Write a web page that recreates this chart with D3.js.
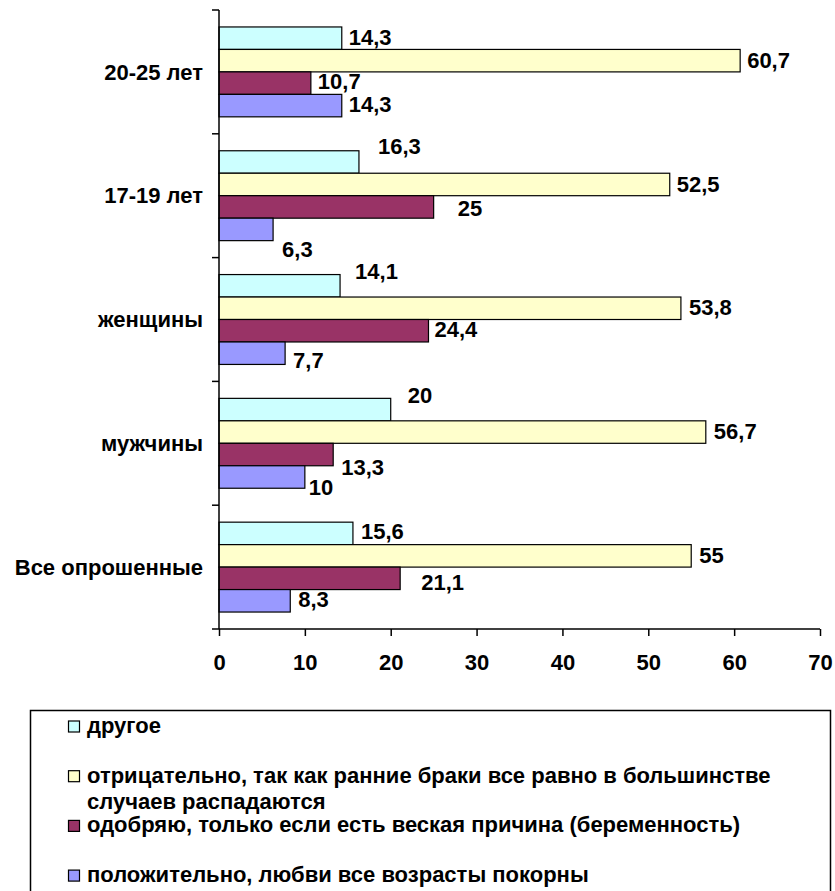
<!DOCTYPE html>
<html>
<head>
<meta charset="utf-8">
<script src="https://cdn.jsdelivr.net/npm/d3@7"></script>
<style>
  html, body { margin: 0; padding: 0; background: #fff; }
  svg { display: block; font-family: "Liberation Sans", Arial, sans-serif; font-weight: bold; }
</style>
</head>
<body>
<svg id="chart"></svg>
<script>
// bar chart — attitudes to early marriage, by group

const CATEGORIES = ['20-25 лет', '17-19 лет', 'женщины', 'мужчины', 'Все опрошенные'];

const SERIES = [
    'другое',
    'отрицательно, так как ранние браки все равно в большинстве случаев распадаются',
    'одобряю, только если есть веская причина (беременность)',
    'положительно, любви все возрасты покорны',
];

// values per series, same order as CATEGORIES
const OTHER    = [14.3, 16.3, 14.1, 20,   15.6];
const NEGATIVE = [60.7, 52.5, 53.8, 56.7, 55];
const APPROVE  = [10.7, 25,   24.4, 13.3, 21.1];
const POSITIVE = [14.3, 6.3,  7.7,  10,   8.3];

const X_TICKS = [0, 10, 20, 30, 40, 50, 60, 70];

const COLORS = ['#ccffff', '#ffffcc', '#993366', '#9999ff'];

// hand-moved data labels in the original: [dx, dy] per category, per series
const LABEL_NUDGE = [
    [[0, -1],    [0, 0],  [0, -2],   [0, -1]],
    [[12, -15.5],[0, 0],  [17, 1.5], [2, 20]],
    [[8, -14],   [1, -1], [-1, -1.5],[1, 7]],
    [[10, -14.5],[1, -1], [1, 12.5], [-3, 10.5]],
    [[1, -2],    [1, -1], [14, 4],   [1, -2]],
];

const W = 835, H = 891;
const FS = 22;

const svg = d3.select('#chart').attr('width', W).attr('height', H);

// ── scales ────────────────────────────────────────────────────────────────
const x = d3.scaleLinear().domain([0, 70]).range([219, 820]);
const y0 = d3.scaleBand().domain(CATEGORIES).range([10, 629])
    .paddingInner(0.274).paddingOuter(0.137);
const y1 = d3.scaleBand().domain(d3.range(SERIES.length)).range([0, y0.bandwidth()]);

const VALUES = [OTHER, NEGATIVE, APPROVE, POSITIVE];
const rows = [];
CATEGORIES.forEach((cat, ci) => {
    VALUES.forEach((vals, si) => rows.push({ cat, ci, si, value: vals[ci] }));
});

const fmt = v => String(v).replace('.', ',');

// ── bars ──────────────────────────────────────────────────────────────────
svg.append('g').selectAll('rect')
    .data(rows)
    .join('rect')
    .attr('x', x(0))
    .attr('y', d => y0(d.cat) + y1(d.si))
    .attr('width', d => x(d.value) - x(0))
    .attr('height', y1.bandwidth())
    .attr('fill', d => COLORS[d.si])
    .attr('stroke', '#000')
    .attr('stroke-width', 1.2);

// ── value labels ──────────────────────────────────────────────────────────
svg.append('g').selectAll('text')
    .data(rows)
    .join('text')
    .attr('x', d => x(d.value) + 7 + LABEL_NUDGE[d.ci][d.si][0])
    .attr('y', d => y0(d.cat) + y1(d.si) + y1.bandwidth() / 2 + LABEL_NUDGE[d.ci][d.si][1] + FS * 0.35)
    .attr('font-size', FS)
    .attr('fill', '#000')
    .text(d => fmt(d.value));

// ── axes ──────────────────────────────────────────────────────────────────
const xAxis = svg.append('g')
    .attr('transform', 'translate(0, 629)')
    .call(d3.axisBottom(x).tickValues(X_TICKS).tickSize(7).tickPadding(0).tickFormat(d => d));
xAxis.select('.domain').attr('stroke', '#000').attr('stroke-width', 1.5).attr('d', `M${x(0)},0H${x(70)}`);
xAxis.selectAll('.tick line').attr('stroke', '#000').attr('stroke-width', 1.5);
xAxis.selectAll('.tick text')
    .attr('font-size', FS).attr('font-family', null).attr('font-weight', 'bold')
    .attr('fill', '#000').attr('dy', null).attr('y', 41);

const yAxisG = svg.append('g').attr('transform', `translate(${x(0)}, 0)`);
yAxisG.append('line')
    .attr('x1', 0).attr('x2', 0).attr('y1', 10).attr('y2', 629)
    .attr('stroke', '#000').attr('stroke-width', 1.5);
// category boundary ticks
const step = y0.step();
const boundaries = CATEGORIES.map(c => y0(c) - y0.paddingInner() * step / 2).concat([629]);
yAxisG.selectAll('.ytick')
    .data(boundaries)
    .join('line')
    .attr('class', 'ytick')
    .attr('x1', -7).attr('x2', 0)
    .attr('y1', d => d).attr('y2', d => d)
    .attr('stroke', '#000').attr('stroke-width', 1.5);
yAxisG.selectAll('.ylabel')
    .data(CATEGORIES)
    .join('text')
    .attr('class', 'ylabel')
    .attr('x', -16)
    .attr('y', d => y0(d) + y0.bandwidth() / 2 + FS * 0.35)
    .attr('text-anchor', 'end')
    .attr('font-size', FS)
    .attr('fill', '#000')
    .text(d => d);

// ── legend ────────────────────────────────────────────────────────────────
const legG = svg.append('g');
legG.append('rect')
    .attr('x', 30.5).attr('y', 710.5).attr('width', 800).attr('height', 200)
    .attr('fill', '#fff').attr('stroke', '#000').attr('stroke-width', 1.5);

const LEG_LINES = [
    ['другое'],
    ['отрицательно, так как ранние браки все равно в большинстве', 'случаев распадаются'],
    ['одобряю, только если есть веская причина (беременность)'],
    ['положительно, любви все возрасты покорны'],
];
LEG_LINES.forEach((lines, i) => {
    const base = 733 + i * 49.7;
    legG.append('rect')
        .attr('x', 68.5).attr('y', base - 12).attr('width', 11).attr('height', 11)
        .attr('fill', COLORS[i]).attr('stroke', '#000').attr('stroke-width', 1.2);
    const t = legG.append('text')
        .attr('x', 87).attr('y', base)
        .attr('font-size', FS).attr('fill', '#000');
    lines.forEach((ln, j) => {
        t.append('tspan').attr('x', 87).attr('dy', j ? 26 : 0).text(ln);
    });
});
</script>
</body>
</html>
